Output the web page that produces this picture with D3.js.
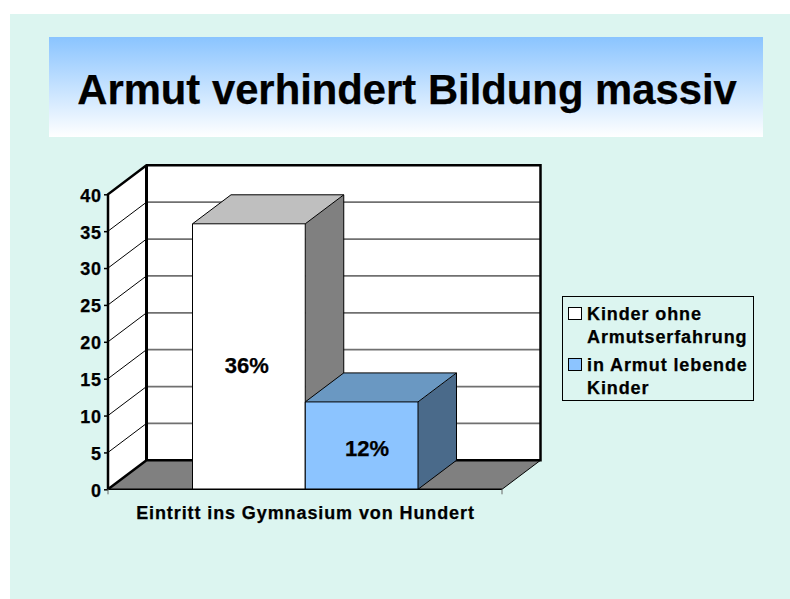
<!DOCTYPE html>
<html>
<head>
<meta charset="utf-8">
<script src="https://cdn.jsdelivr.net/npm/d3@7"></script>
<style>
  html, body { margin: 0; padding: 0; background: #fff; }
  text { font-family: "Liberation Sans", Arial, sans-serif; font-weight: bold; fill: #000; stroke: #000; stroke-width: 0.25px; }
</style>
</head>
<body>
<div id="chart"></div>
<script>
const titleText = 'Armut verhindert Bildung massiv';
const categoryLabel = 'Eintritt ins Gymnasium von Hundert';
const seriesNames = ['Kinder ohne', 'in Armut lebende'];
const seriesValues = [36, 11.85];
const valueLabels = ['36%', '12%'];
const yTicks = [0, 5, 10, 15, 20, 25, 30, 35, 40];
const legendLines = [['Kinder ohne', 'Armutserfahrung'], ['in Armut lebende', 'Kinder']];
const frontColors = ['#ffffff', '#8cc4ff'];
const topColors = ['#bfbfbf', '#6a98c2'];
const sideColors = ['#808080', '#4a6a8a'];

const chartW = 790, chartH = 599;

// depth of the 3d box
const dx = 38.5, dy = -29;
const plotL = 108, plotR = 502, plotB = 489.3, plotT = 194.3;

const svg = d3.select('#chart')
    .append('svg')
        .attr('width', chartW)
        .attr('height', chartH)
        .style('display', 'block');

const grad = svg.append('defs').append('linearGradient')
    .attr('id', 'band')
    .attr('x1', 0).attr('y1', 0).attr('x2', 0).attr('y2', 1);
grad.append('stop').attr('offset', '0%').attr('stop-color', '#8ac4ff');
grad.append('stop').attr('offset', '100%').attr('stop-color', '#ffffff');

// slide background
svg.append('rect')
    .attr('x', 10).attr('y', 14)
    .attr('width', chartW - 10).attr('height', chartH - 14)
    .style('fill', '#dcf5f0');

svg.append('rect')
    .attr('x', 49).attr('y', 37)
    .attr('width', 714).attr('height', 100)
    .style('fill', 'url(#band)');

svg.append('text')
    .attr('x', 407).attr('y', 103.5)
    .attr('text-anchor', 'middle')
    .attr('font-size', 41.8)
    .text(titleText);

const yScale = d3.scaleLinear().domain([0, 40]).range([plotB, plotT]);
const xScale = d3.scaleBand().domain(d3.range(seriesValues.length)).range([192.5, 418]);

const pts = a => a.map(p => p.join(',')).join(' ');

// back wall and side wall
svg.append('polygon')
    .attr('points', pts([[plotL + dx, plotT + dy], [plotR + dx, plotT + dy], [plotR + dx, plotB + dy], [plotL + dx, plotB + dy]]))
    .style('fill', '#fff');
svg.append('polygon')
    .attr('points', pts([[plotL, plotT], [plotL + dx, plotT + dy], [plotL + dx, plotB + dy], [plotL, plotB]]))
    .style('fill', '#fff');

// floor
svg.append('polygon')
    .attr('points', pts([[plotL, plotB], [plotL + dx, plotB + dy], [plotR + dx, plotB + dy], [plotR, plotB]]))
    .style('fill', '#808080');
svg.append('line')
    .attr('x1', plotR).attr('y1', plotB)
    .attr('x2', plotR + dx).attr('y2', plotB + dy)
    .style('stroke', '#000').style('stroke-width', 1);

// gridlines
const inner = yTicks.slice(1, -1);
svg.selectAll('.grid').data(inner)
    .enter().append('line')
        .attr('class', 'grid')
        .attr('x1', plotL + dx).attr('x2', plotR + dx)
        .attr('y1', d => yScale(d) + dy).attr('y2', d => yScale(d) + dy)
        .style('stroke', '#707070').style('stroke-width', 1.8);
svg.selectAll('.sidegrid').data(inner)
    .enter().append('line')
        .attr('class', 'sidegrid')
        .attr('x1', plotL).attr('x2', plotL + dx)
        .attr('y1', d => yScale(d)).attr('y2', d => yScale(d) + dy)
        .style('stroke', '#000').style('stroke-width', 1);

// heavy frame
svg.append('polyline')
    .attr('points', pts([[plotL, plotB], [plotL, plotT], [plotL + dx, plotT + dy], [plotR + dx, plotT + dy], [plotR + dx, plotB + dy], [plotL + dx, plotB + dy], [plotL, plotB]]))
    .style('fill', 'none').style('stroke', '#000').style('stroke-width', 2.5);
svg.append('line')
    .attr('x1', plotL + dx).attr('x2', plotL + dx)
    .attr('y1', plotT + dy).attr('y2', plotB + dy)
    .style('stroke', '#000').style('stroke-width', 3);

// bars
const bars = svg.selectAll('.bar').data(seriesValues)
    .enter().append('g').attr('class', 'bar');
const bw = xScale.bandwidth();

bars.append('polygon')
    .attr('points', (d, i) => {
        const x = xScale(i), y = yScale(d);
        return pts([[x, y], [x + dx, y + dy], [x + bw + dx, y + dy], [x + bw, y]]);
    })
    .style('fill', (d, i) => topColors[i]);
bars.append('polygon')
    .attr('points', (d, i) => {
        const x = xScale(i) + bw, y = yScale(d);
        return pts([[x, y], [x + dx, y + dy], [x + dx, plotB + dy], [x, plotB]]);
    })
    .style('fill', (d, i) => sideColors[i]);
bars.append('rect')
    .attr('x', (d, i) => xScale(i))
    .attr('y', d => yScale(d))
    .attr('width', bw)
    .attr('height', d => plotB - yScale(d))
    .style('fill', (d, i) => frontColors[i]);
bars.selectAll('.edge')
    .data((d, i) => {
        const x = xScale(i), y = yScale(d);
        return [pts([[x, plotB], [x, y], [x + bw, y], [x + bw, plotB]]),
            pts([[x, y], [x + dx, y + dy], [x + bw + dx, y + dy], [x + bw, y]]),
            pts([[x + bw + dx, y + dy], [x + bw + dx, plotB + dy], [x + bw, plotB]])];
    })
    .enter().append('polyline')
        .attr('points', d => d)
        .style('fill', 'none').style('stroke', '#000').style('stroke-width', 1);

// the labels sit off centre in the original
const labelNudgeX = [-2, 5.5], labelNudgeY = [16.5, 10.5];
bars.append('text')
    .attr('x', (d, i) => xScale(i) + bw / 2 + labelNudgeX[i])
    .attr('y', (d, i) => (yScale(d) + plotB) / 2 + labelNudgeY[i])
    .attr('text-anchor', 'middle')
    .attr('font-size', 22)
    .text((d, i) => valueLabels[i]);

// y axis
const yAxis = d3.axisLeft(yScale).tickValues(yTicks).tickSize(4).tickPadding(2);
const yG = svg.append('g').attr('transform', `translate(${plotL},0)`).call(yAxis);
yG.attr('font-family', null);
yG.select('.domain').remove();
yG.selectAll('line').style('stroke', '#000').style('stroke-width', 1.5);
yG.selectAll('text')
    .attr('font-size', 18)
    .attr('dy', '0.38em')
    .style('letter-spacing', '0.9px');

// x axis
svg.append('line')
    .attr('x1', plotL).attr('x2', plotR)
    .attr('y1', plotB).attr('y2', plotB)
    .style('stroke', '#000').style('stroke-width', 1.5);
svg.selectAll('.xtick').data([plotL, plotR])
    .enter().append('line')
        .attr('class', 'xtick')
        .attr('x1', d => d).attr('x2', d => d)
        .attr('y1', plotB).attr('y2', plotB + 5)
        .style('stroke', '#666').style('stroke-width', 1);

svg.append('text')
    .attr('x', 305.5).attr('y', 519)
    .attr('text-anchor', 'middle')
    .attr('font-size', 18)
    .style('letter-spacing', '0.9px')
    .text(categoryLabel);

// legend
svg.append('rect')
    .attr('x', 562.5).attr('y', 296.5)
    .attr('width', 191).attr('height', 104)
    .style('fill', 'none').style('stroke', '#000').style('stroke-width', 1);

const swatchY = [307, 358];
const lineY = [[319.5, 343], [371, 393.5]];
svg.selectAll('.swatch').data(seriesNames)
    .enter().append('rect')
        .attr('class', 'swatch')
        .attr('x', 568.5)
        .attr('y', (d, i) => swatchY[i] + 0.5)
        .attr('width', 13).attr('height', 12)
        .style('fill', (d, i) => frontColors[i])
        .style('stroke', '#000').style('stroke-width', 1);
legendLines.forEach((lines, i) => {
    svg.selectAll('.leg' + i).data(lines)
        .enter().append('text')
            .attr('class', 'leg' + i)
            .attr('x', 587)
            .attr('y', (d, j) => lineY[i][j])
            .attr('font-size', 18)
            .style('letter-spacing', '0.9px')
            .text(d => d);
});
</script>
</body>
</html>
